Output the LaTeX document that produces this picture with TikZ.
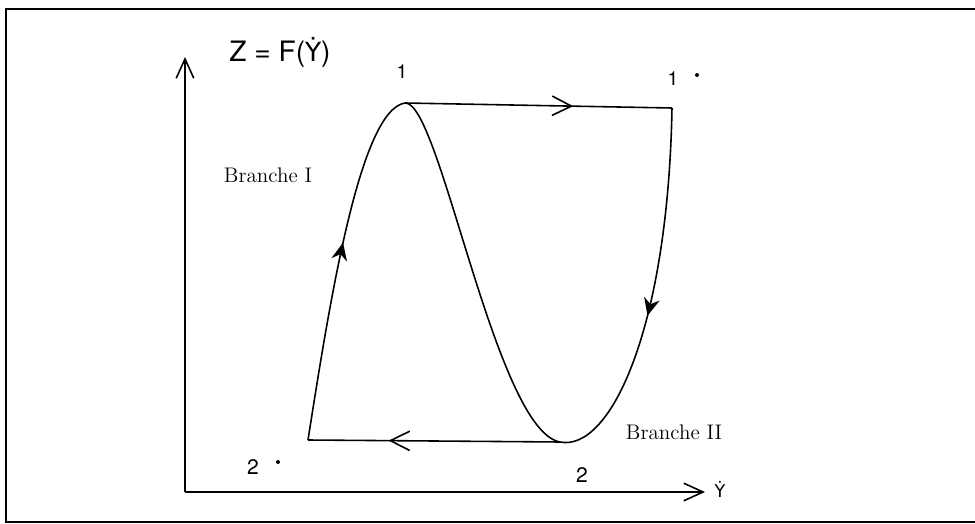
\documentclass[tikz,border=0pt]{standalone}
\usepackage{fontspec}
\setsansfont{TeX Gyre Heros}
\newfontfamily\dvsans{DejaVu Sans}
\usetikzlibrary{arrows.meta,decorations.markings}
\tikzset{
  barb/.style={-{Straight Barb[length=11pt,width=10pt]}},
  midbarb/.style={postaction={decorate},decoration={markings,
    mark=at position #1 with {\arrow{Straight Barb[length=11pt,width=11pt]}}}},
  middart/.style={postaction={decorate},decoration={markings,
    mark=at position #1 with {\arrow{Stealth[length=10pt,width=9pt]}}}},
  branchlabel/.style={font=\rmfamily\large},
  pointlabel/.style={font=\sffamily\fontsize{11}{13}\selectfont}
}
\begin{document}
\begin{tikzpicture}[x=0.02cm, y=-0.02cm, line width=0.9pt]
\useasboundingbox (0,0) rectangle (975,524);
% frame
\draw[line width=1.6pt] (975,9) -- (6,9) -- (6,522) -- (975,522);
% axes
\coordinate (O) at (185,492);
\coordinate (Xend) at (705,492);
\coordinate (Yend) at (185,57);
\draw[barb] (O) -- (Xend);
\draw[barb] (O) -- (Yend);
\node[font=\sffamily\fontsize{16}{18}\selectfont] (zlab) at (280,52) {Z = F({\dvsans\fontsize{15}{18}\selectfont Ẏ})};
\node[font=\dvsans\fontsize{10}{12}\selectfont] (ylab) at (720,489) {Ẏ};
% points of the cycle
\coordinate (P1) at (405,103);
\coordinate (P1p) at (672,108);
\coordinate (P2) at (560,442);
\coordinate (P2p) at (308,440);
% characteristic curve
\draw[middart=0.56] (P2p) .. controls (330,300) and (360,110) .. (P1);
\draw (P1) .. controls (440,100) and (495,430) .. (P2);
\draw[middart=0.56] (P1p) .. controls (668,330) and (610,452) .. (P2);
% jumps
\draw[midbarb=0.63] (P1) -- (P1p);
\draw[midbarb=0.68] (P2) -- (P2p);
% labels
\node[pointlabel] (n1) at (402,72) {1};
\node[pointlabel] (n1p) at (673,79) {1};
\fill (697,75) circle (2);
\node[pointlabel,font=\sffamily\fontsize{12}{14}\selectfont] (n2p) at (253,467) {2};
\fill (278,462) circle (2);
\node[pointlabel,font=\sffamily\fontsize{12}{14}\selectfont] (n2) at (582,475) {2};
\node[branchlabel] (br1) at (268,175) {Branche I};
\node[branchlabel] (br2) at (674,432) {Branche II};
\end{tikzpicture}
\end{document}
